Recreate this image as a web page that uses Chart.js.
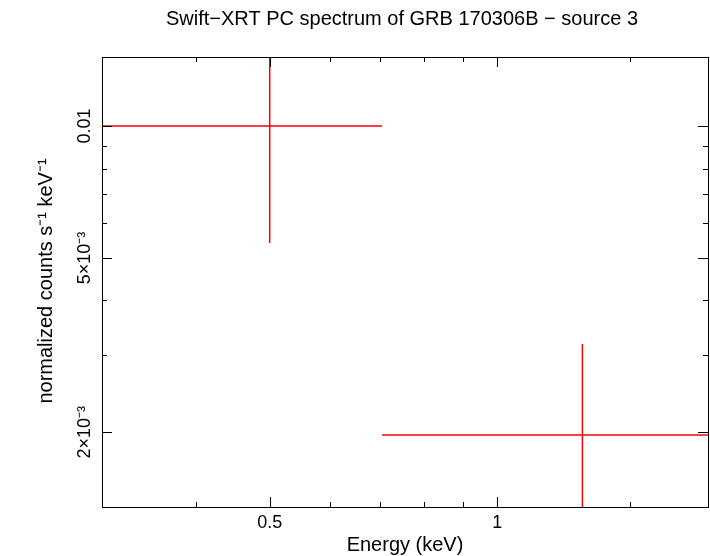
<!DOCTYPE html>
<html>
<head>
<script src="https://cdn.jsdelivr.net/npm/chart.js@4"></script>
<style>body{margin:0;background:#fff}#wrap{width:710px;height:556px}</style>
</head>
<body>
<div id="wrap"><canvas id="c"></canvas></div>
<script>
// data
const energy = [0.5, 1.296];
const energyLo = [0.3, 0.704];
const energyHi = [0.704, 1.95];
const rate = [0.01, 0.00197];
const rateLo = [0.00541, 0.0012];
const rateHi = [0.0146, 0.00318];

const xMajor = [0.5, 1];
const xMajorLabels = ['0.5', '1'];
const xMinor = [0.3, 0.4, 0.6, 0.7, 0.8, 0.9, 1.5];
const yMajor = [0.01, 0.005, 0.002];
const yMajorLabels = ['0.01', '5×10⁻³', '2×10⁻³'];
const yMinor = [0.003, 0.004, 0.006, 0.007, 0.008, 0.009];

const sets = [];
for (let i = 0; i < energy.length; i++) {
    sets.push({ data: [{x: energyLo[i], y: rate[i]}, {x: energyHi[i], y: rate[i]}] });
    sets.push({ data: [{x: energy[i], y: rateLo[i]}, {x: energy[i], y: rateHi[i]}] });
}
sets.forEach(s => {
    s.showLine = true; s.borderColor = '#ff0000'; s.borderWidth = 1.5;
    s.pointRadius = 0; s.fill = false;
});

const titleFont = '20px "Liberation Sans", Arial, sans-serif';
const tickFont = '18px "Liberation Sans", Arial, sans-serif';

const frame = {
    id: 'frame',
    afterDraw(chart) {
        const ctx = chart.ctx, a = chart.chartArea;
        const xs = chart.scales.x, ys = chart.scales.y;
        ctx.save();
        ctx.strokeStyle = '#000'; ctx.lineWidth = 1;
        ctx.strokeRect(a.left + 0.5, a.top + 0.5, a.right - a.left, a.bottom - a.top);
        ctx.beginPath();
        const tx = (v, len) => {
            const p = Math.round(xs.getPixelForValue(v)) + 0.5;
            ctx.moveTo(p, a.bottom); ctx.lineTo(p, a.bottom - len);
            ctx.moveTo(p, a.top); ctx.lineTo(p, a.top + len);
        };
        const ty = (v, len) => {
            const p = Math.round(ys.getPixelForValue(v)) + 0.5;
            ctx.moveTo(a.left, p); ctx.lineTo(a.left + len, p);
            ctx.moveTo(a.right, p); ctx.lineTo(a.right - len, p);
        };
        xMajor.forEach(v => tx(v, 10)); xMinor.forEach(v => tx(v, 5));
        yMajor.forEach(v => ty(v, 10)); yMinor.forEach(v => ty(v, 5));
        ctx.stroke();

        ctx.fillStyle = '#000'; ctx.font = tickFont;
        ctx.textAlign = 'center'; ctx.textBaseline = 'top';
        xMajor.forEach((v, i) => ctx.fillText(xMajorLabels[i], xs.getPixelForValue(v), a.bottom + 7));
        yMajor.forEach((v, i) => {
            ctx.save();
            ctx.translate(a.left - 17, ys.getPixelForValue(v));
            ctx.rotate(-Math.PI / 2);
            ctx.textBaseline = 'middle';
            ctx.fillText(yMajorLabels[i], 0, 0);
            ctx.restore();
        });
        const cx = (a.left + a.right) / 2;
        ctx.font = titleFont;
        ctx.textBaseline = 'middle';
        ctx.fillText('Swift−XRT PC spectrum of GRB 170306B − source 3', cx - 3, 19);
        ctx.fillText('Energy (keV)', cx, 545);
        ctx.save();
        ctx.translate(46, 281);
        ctx.rotate(-Math.PI / 2);
        ctx.fillText('normalized counts s⁻¹ keV⁻¹', 0, 0);
        ctx.restore();
        ctx.restore();
    }
};

new Chart(document.getElementById('c'), {
    type: 'scatter',
    data: { datasets: sets },
    plugins: [frame],
    options: {
        responsive: true,
        maintainAspectRatio: false,
        animation: false,
        layout: { padding: { left: 102, right: 2, top: 57, bottom: 49 } },
        plugins: { legend: { display: false }, tooltip: { enabled: false } },
        scales: {
            x: { type: 'logarithmic', min: 0.3, max: 1.9, display: false },
            y: { type: 'logarithmic', min: 0.00135, max: 0.01438, display: false }
        }
    }
});
</script>
</body>
</html>
